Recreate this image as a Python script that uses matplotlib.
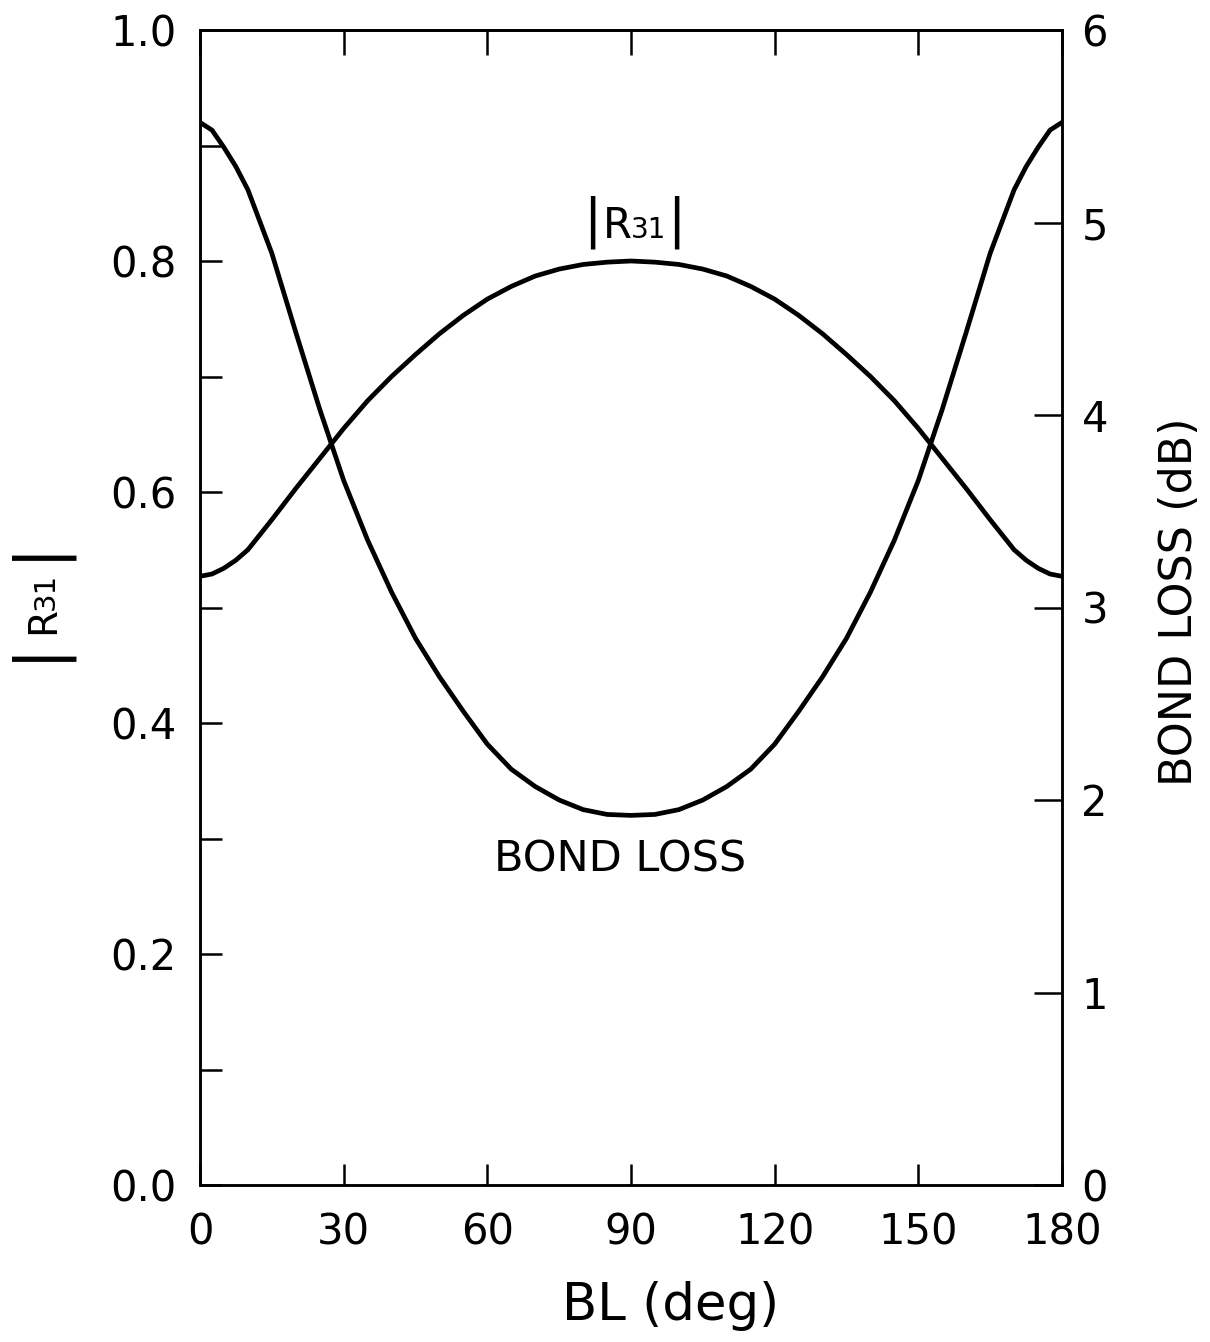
import matplotlib
matplotlib.use("Agg")
import matplotlib.pyplot as plt

# ---------------- data ----------------
bl_deg = [0, 2.5, 5, 7.5, 10, 15, 20, 25, 30, 35, 40, 45, 50, 55, 60, 65, 70, 75, 80,
          85, 90, 95, 100, 105, 110, 115, 120, 125, 130, 135, 140, 145, 150, 155,
          160, 165, 170, 172.5, 175, 177.5, 180]
r31 = [0.527, 0.529, 0.534, 0.541, 0.550, 0.576, 0.603, 0.629, 0.655, 0.679,
       0.700, 0.719, 0.737, 0.753, 0.767, 0.778, 0.787, 0.793, 0.797, 0.799,
       0.800,
       0.799, 0.797, 0.793, 0.787, 0.778, 0.767, 0.753, 0.737, 0.719, 0.700,
       0.679, 0.655, 0.629, 0.603, 0.576, 0.550, 0.541, 0.534, 0.529, 0.527]
bond_loss_db = [5.52, 5.48, 5.39, 5.29, 5.17, 4.84, 4.43, 4.03, 3.66, 3.35,
                3.08, 2.84, 2.64, 2.46, 2.29, 2.16, 2.07, 2.00, 1.95, 1.925,
                1.92,
                1.925, 1.95, 2.00, 2.07, 2.16, 2.29, 2.46, 2.64, 2.84, 3.08,
                3.35, 3.66, 4.03, 4.43, 4.84, 5.17, 5.29, 5.39, 5.48, 5.52]

x_ticks = [0, 30, 60, 90, 120, 150, 180]
x_labels = ["0", "30", "60", "90", "120", "150", "180"]
left_ticks = [0.0, 0.2, 0.4, 0.6, 0.8, 1.0]
left_labels = ["0.0", "0.2", "0.4", "0.6", "0.8", "1.0"]
left_minor = [0.1, 0.3, 0.5, 0.7, 0.9]
right_ticks = [0, 1, 2, 3, 4, 5, 6]
right_labels = ["0", "1", "2", "3", "4", "5", "6"]

# ---------------- figure ----------------
W, H = 1210, 1342
fig = plt.figure(figsize=(W / 100, H / 100), dpi=100)
fig.patch.set_facecolor("white")

L, R, B, T = 200, 1062, 1185, 30
ax = fig.add_axes([L / W, 1 - B / H, (R - L) / W, (B - T) / H])
ax.set_xlim(0, 180)
ax.set_ylim(0, 1)

LW_SPINE = 1.8
CURVE_LW = 3.4

ax.plot(bl_deg, r31, color="black", lw=CURVE_LW, solid_joinstyle="round")

ax2 = ax.twinx()
ax2.set_ylim(0, 6)
ax2.plot(bl_deg, bond_loss_db, color="black", lw=CURVE_LW, solid_joinstyle="round")

for a in (ax, ax2):
    for s in a.spines.values():
        s.set_linewidth(LW_SPINE)

FS_TICK = 30
ax.set_xticks(x_ticks)
ax.set_xticklabels(x_labels)
ax.tick_params(axis="x", direction="in", length=15, width=LW_SPINE, pad=19,
               labelsize=FS_TICK, top=False)
sec = ax.secondary_xaxis("top")
sec.set_xticks(x_ticks)
sec.set_xticklabels([])
sec.tick_params(axis="x", direction="in", length=18, width=LW_SPINE)
sec.spines["top"].set_linewidth(LW_SPINE)

ax.set_yticks(left_ticks)
ax.set_yticklabels(left_labels)
ax.set_yticks(left_minor, minor=True)
ax.tick_params(axis="y", which="both", direction="in", length=16, width=LW_SPINE,
               pad=17, labelsize=FS_TICK, right=False)

ax2.set_yticks(right_ticks)
ax2.set_yticklabels(right_labels)
ax2.tick_params(axis="y", direction="in", length=20, width=LW_SPINE, pad=14,
                labelsize=FS_TICK)


def fx(px):
    return px / W


def fy(py):
    return 1 - py / H


# x-axis label
fig.text(fx(671), fy(1306), "BL (deg)", ha="center", va="center", fontsize=37)

# right axis label
fig.text(fx(1180), fy(602), "BOND LOSS (dB)", rotation=90, ha="center",
         va="center", fontsize=32)

# left axis label |R31| built from pieces (rotated)
kw = dict(rotation=90, rotation_mode="anchor", ha="center")
fig.text(fx(37), fy(650), "|", va="center", fontsize=46, **kw)
fig.text(fx(54), fy(621), "R", va="baseline", fontsize=28, **kw)
fig.text(fx(54), fy(591), "31", va="baseline", fontsize=21, **kw)
fig.text(fx(37), fy(549), "|", va="center", fontsize=46, **kw)

# curve annotations
fig.text(fx(592), fy(222), "|", ha="center", va="center", fontsize=39)
fig.text(fx(617), fy(238), "R", ha="center", va="baseline", fontsize=30)
fig.text(fx(649), fy(238), "31", ha="center", va="baseline", fontsize=20)
fig.text(fx(676), fy(222), "|", ha="center", va="center", fontsize=39)

fig.text(fx(620), fy(859), "BOND LOSS", ha="center", va="center", fontsize=31)

fig.savefig("out.png", dpi=100, facecolor="white")
